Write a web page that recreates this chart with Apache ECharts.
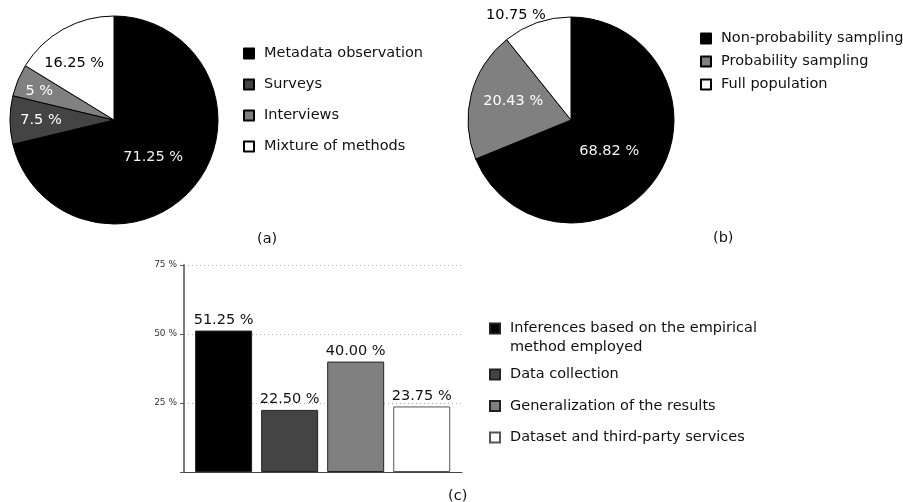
<!DOCTYPE html>
<html>
<head>
<meta charset="utf-8">
<script src="https://cdn.jsdelivr.net/npm/echarts@6/dist/echarts.min.js"></script>
<style>
  html, body { margin: 0; padding: 0; background: #fff; }
  #chart { width: 903px; height: 502px; }
</style>
</head>
<body>
<div id="chart"></div>
<script>
// (a) research methods
const methodNames = ['Metadata observation', 'Surveys', 'Interviews', 'Mixture of methods'];
const methodShares = [71.25, 7.5, 5, 16.25];

// (b) sampling strategies
const samplingNames = ['Non-probability sampling', 'Probability sampling', 'Full population'];
const samplingShares = [68.82, 20.43, 10.75];

// (c) threats to validity
const threatNames = [
  'Inferences based on the empirical\nmethod employed',
  'Data collection',
  'Generalization of the results',
  'Dataset and third-party services'
];
const threatShares = [51.25, 22.5, 40.0, 23.75];

// value axis of (c)
const axisMin = 0;
const axisMax = 75;
const axisStep = 25;

const FONT = 'DejaVu Sans';
const FS = 14.5;
const fills4 = ['#000000', '#444444', '#808080', '#ffffff'];
const fills3 = ['#000000', '#808080', '#ffffff'];
const labelInk4 = ['#f2f2f2', '#ffffff', '#ffffff', '#000000'];
const labelInk3 = ['#f2f2f2', '#ffffff', '#000000'];

// nudges applied to the slice labels
const nudgeA = [[-4, 3], [-18, 0], [-24, -8], [-13, -9]];
const nudgeB = [[-7, 1], [-5, -5], [-37, -53]];

function pct(v) { return v + ' %'; }

function pieSeries(names, values, fills, inks, center, radius, nudge) {
  return {
    type: 'pie',
    center: center,
    radius: radius,
    startAngle: 90,
    clockwise: true,
    silent: true,
    label: {
      show: true,
      position: 'inside',
      fontFamily: FONT,
      fontSize: FS,
      formatter: p => pct(p.value)
    },
    labelLine: { show: false },
    itemStyle: { borderColor: '#000', borderWidth: 1 },
    labelLayout: p => ({ dx: nudge[p.dataIndex][0], dy: nudge[p.dataIndex][1] }),
    data: names.map((n, i) => ({
      name: n,
      value: values[i],
      itemStyle: { color: fills[i] },
      label: { color: inks[i] }
    }))
  };
}

const legendText = { fontFamily: FONT, fontSize: FS, color: '#111', padding: [0, 0, 0, 5] };

const barSeries = threatNames.map((n, i) => ({
  type: 'bar',
  name: n,
  barWidth: 57,
  barGap: '-100%',
  xAxisIndex: 0,
  yAxisIndex: 0,
  itemStyle: {
    color: fills4[i],
    borderColor: i === 3 ? '#555' : '#222',
    borderWidth: 1
  },
  label: {
    show: true,
    position: 'top',
    distance: 3,
    fontFamily: FONT,
    fontSize: FS,
    color: '#111',
    formatter: p => p.value[1].toFixed(2) + ' %'
  },
  data: [[i, threatShares[i]]]
}));

const chart = echarts.init(document.getElementById('chart'), null, { renderer: 'canvas' });
chart.setOption({
  animation: false,
  backgroundColor: '#fff',
  legend: [
    {
      orient: 'vertical', left: 243, top: 46, padding: 0,
      itemWidth: 10, itemHeight: 10, itemGap: 16, icon: 'rect',
      selectedMode: false, textStyle: legendText,
      data: methodNames
    },
    {
      orient: 'vertical', left: 700, top: 31, padding: 0,
      itemWidth: 10, itemHeight: 10, itemGap: 8, icon: 'rect',
      selectedMode: false, textStyle: legendText,
      data: samplingNames
    },
    {
      // blank first line keeps the swatch level with the first text line
      orient: 'vertical', left: 489, top: 300, padding: 0,
      itemWidth: 10, itemHeight: 10, icon: 'rect',
      selectedMode: false,
      formatter: name => '\n' + name,
      textStyle: Object.assign({}, legendText, { lineHeight: 19 }),
      data: threatNames.slice(0, 1)
    },
    {
      orient: 'vertical', left: 489, top: 367, padding: 0,
      itemWidth: 10, itemHeight: 10, itemGap: 16.5, icon: 'rect',
      selectedMode: false, textStyle: legendText,
      data: threatNames.slice(1)
    }
  ],
  grid: { left: 184, top: 265, width: 278, height: 207, containLabel: false },
  xAxis: {
    type: 'value',
    min: -0.6,
    max: 3.61,
    axisLine: { show: true, onZero: false, lineStyle: { color: '#444', width: 1 } },
    axisTick: { show: false },
    axisLabel: { show: false },
    splitLine: { show: false }
  },
  yAxis: {
    type: 'value',
    min: axisMin,
    max: axisMax,
    interval: axisStep,
    axisLine: { show: true, onZero: false, lineStyle: { color: '#7a7a7a', width: 2 } },
    axisTick: { show: true, length: 4, lineStyle: { color: '#555', width: 1 } },
    axisLabel: {
      fontFamily: FONT, fontSize: 9, color: '#333', margin: 7,
      formatter: v => (v === 0 ? '' : v + ' %')
    },
    splitLine: { show: true, lineStyle: { color: '#aaa', type: [1, 3], width: 1 } }
  },
  series: [
    pieSeries(methodNames, methodShares, fills4, labelInk4, [114, 120], 104, nudgeA),
    pieSeries(samplingNames, samplingShares, fills3, labelInk3, [571, 120], 103, nudgeB)
  ].concat(barSeries),
  graphic: [
    { type: 'text', left: 257, top: 232, style: { text: '(a)', font: '14.5px "DejaVu Sans"', fill: '#111' } },
    { type: 'text', left: 713, top: 231, style: { text: '(b)', font: '14.5px "DejaVu Sans"', fill: '#111' } },
    { type: 'text', left: 448, top: 489, style: { text: '(c)', font: '14.5px "DejaVu Sans"', fill: '#111' } }
  ]
});
</script>
</body>
</html>
